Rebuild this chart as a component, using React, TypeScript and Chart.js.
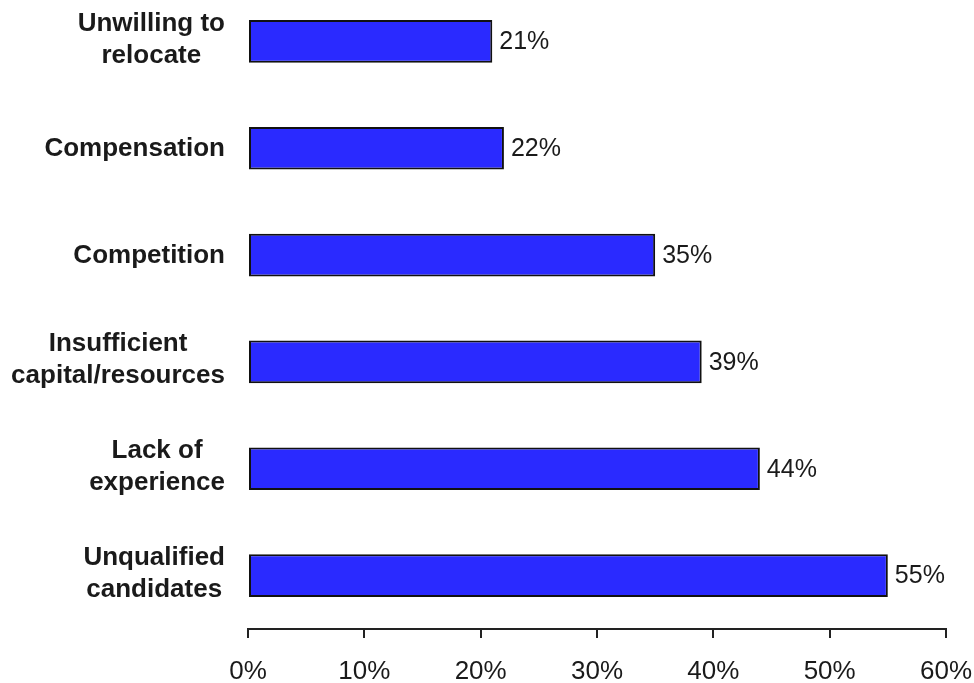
import React, { useEffect, useRef } from "react";
import { Chart, registerables } from "chart.js";

Chart.register(...registerables);

const categories: string[][] = [
  ["Unwilling to", "relocate"],
  ["Compensation"],
  ["Competition"],
  ["Insufficient", "capital/resources"],
  ["Lack of", "experience"],
  ["Unqualified", "candidates"],
];
const values: number[] = [21, 22, 35, 39, 44, 55];
const xTickValues: number[] = [0, 10, 20, 30, 40, 50, 60];

const FONT = '"Liberation Sans", Arial, Helvetica, sans-serif';
const TEXT = "#1a1a1a";

const yLabelPlugin = {
  id: "yLabels",
  afterDraw(chart: any) {
    const ctx = chart.ctx;
    const y = chart.scales.y;
    ctx.save();
    ctx.font = `bold 26px ${FONT}`;
    ctx.fillStyle = TEXT;
    ctx.textAlign = "center";
    ctx.textBaseline = "middle";
    const right = 225;
    categories.forEach((lines, i) => {
      const cy = y.getPixelForValue(i);
      const maxW = Math.max(...lines.map((l) => ctx.measureText(l).width));
      const cx = right - maxW / 2;
      const lh = 32;
      const off = lines.length > 1 ? -2 : 1;
      lines.forEach((l, j) => {
        ctx.fillText(l, cx, cy + off + (j - (lines.length - 1) / 2) * lh);
      });
    });
    ctx.restore();
  },
};

const dataLabelPlugin = {
  id: "dataLabels",
  afterDatasetsDraw(chart: any) {
    const ctx = chart.ctx;
    const meta = chart.getDatasetMeta(0);
    ctx.save();
    ctx.font = `25px ${FONT}`;
    ctx.fillStyle = TEXT;
    ctx.textAlign = "left";
    ctx.textBaseline = "middle";
    meta.data.forEach((el: any, i: number) => {
      ctx.fillText(`${values[i]}%`, el.x + 7, el.y + 1);
    });
    ctx.restore();
  },
};

export default function App() {
  const ref = useRef<HTMLCanvasElement | null>(null);
  useEffect(() => {
    if (!ref.current) return;
    const chart = new Chart(ref.current, {
      type: "bar",
      data: {
        labels: categories.map((c) => c.join(" ")),
        datasets: [
          {
            data: values,
            backgroundColor: "#2a2aff",
            borderColor: "#111111",
            borderWidth: 2,
            borderSkipped: false,
            categoryPercentage: 1,
            barPercentage: 0.4,
          },
        ],
      },
      options: {
        indexAxis: "y",
        animation: false,
        responsive: false,
        maintainAspectRatio: false,
        layout: { padding: 0 },
        plugins: {
          legend: { display: false },
          tooltip: { enabled: false },
          title: { display: false },
        },
        scales: {
          x: {
            type: "linear",
            min: 0,
            max: 60,
            afterBuildTicks(scale: any) {
              scale.ticks = xTickValues.map((v) => ({ value: v }));
            },
            afterFit(scale: any) {
              scale.height = 54;
              scale.paddingRight = 28;
              scale.paddingLeft = 0;
            },
            ticks: {
              callback: (v: any) => `${v}%`,
              color: TEXT,
              font: { family: FONT, size: 26 },
              padding: 18,
              maxRotation: 0,
              autoSkip: false,
            },
            grid: {
              display: true,
              drawOnChartArea: false,
              drawTicks: true,
              tickLength: 9,
              color: "#222222",
              lineWidth: 2,
            },
            border: { display: true, color: "#222222", width: 2 },
          },
          y: {
            type: "category",
            afterFit(scale: any) {
              scale.width = 248;
            },
            ticks: { display: false },
            grid: { display: false },
            border: { display: false },
          },
        },
      },
      plugins: [yLabelPlugin, dataLabelPlugin],
    });
    return () => chart.destroy();
  }, []);

  return (
    <div style={{ position: "absolute", left: 0, top: -12, width: 974, height: 695 }}>
      <canvas ref={ref} width={974} height={695} style={{ display: "block", width: 974, height: 695 }} />
    </div>
  );
}
